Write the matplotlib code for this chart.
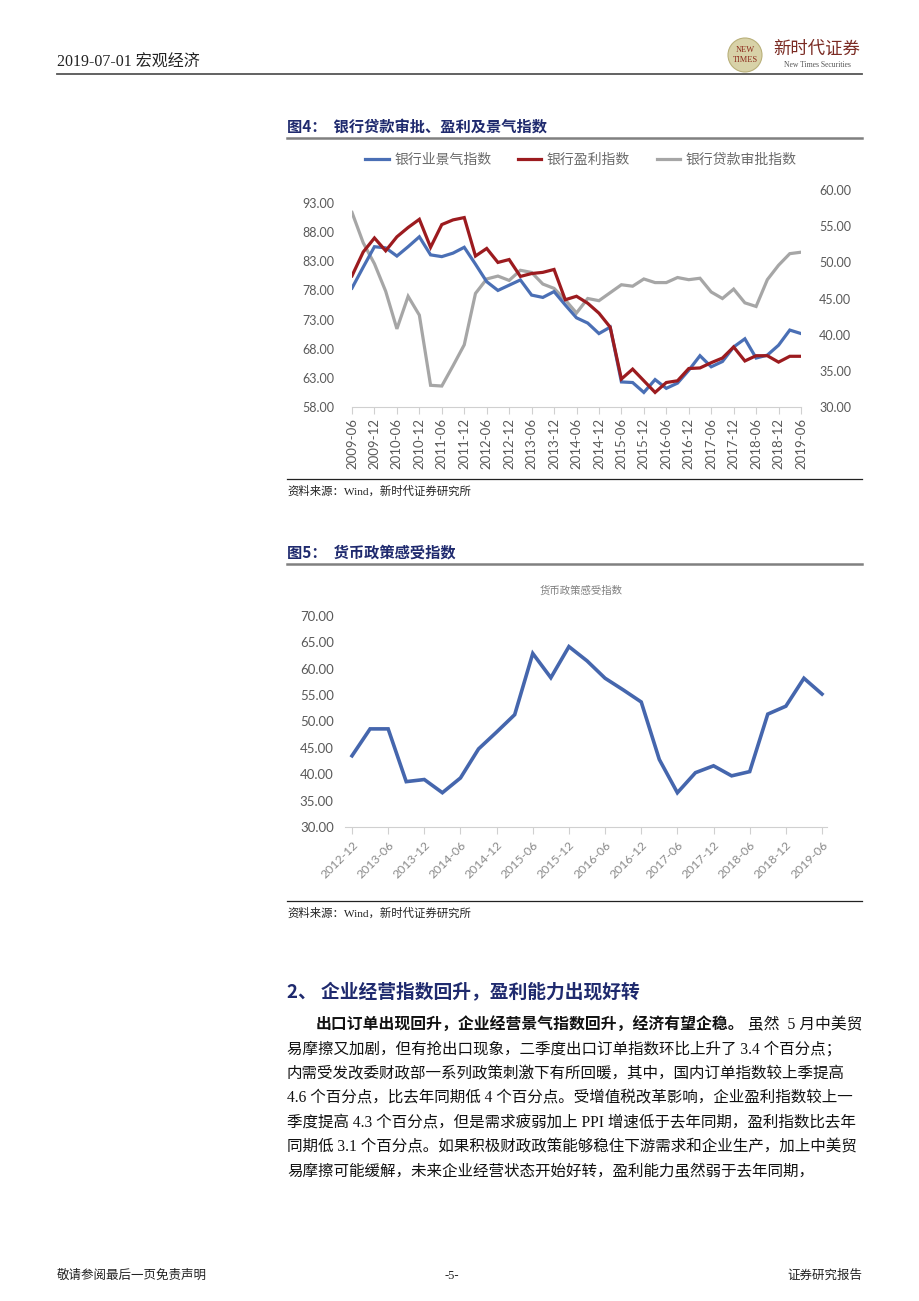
import matplotlib
matplotlib.use("Agg")
import matplotlib.pyplot as plt
from matplotlib.lines import Line2D
from matplotlib.patches import Ellipse
import numpy as np

W, H = 920, 1301

# ---- figure 4 data (quarterly, 2009-06 .. 2019-06) ----
bank_climate = [78.4, 82.0, 85.5, 85.3, 83.9, 85.5, 87.2, 84.1, 83.8, 84.4,
                85.4, 82.5, 79.5, 78.0, 78.9, 79.8, 77.2, 76.8, 77.8, 75.5,
                73.3, 72.4, 70.6, 71.7, 62.3, 62.2, 60.5, 62.7, 61.2, 62.1,
                64.3, 66.8, 64.9, 65.8, 68.3, 69.7, 66.4, 66.9, 68.6, 71.2,
                70.6]
bank_profit = [80.5, 84.6, 87.0, 84.8, 87.2, 88.8, 90.2, 85.4, 89.3, 90.1,
               90.5, 83.9, 85.2, 82.8, 83.3, 80.4, 80.9, 81.1, 81.6, 76.4,
               77.0, 75.8, 74.1, 71.7, 62.8, 64.5, 62.5, 60.5, 62.2, 62.5,
               64.6, 64.7, 65.6, 66.4, 68.3, 65.9, 66.8, 66.8, 65.7, 66.7,
               66.7]
loan_approval = [56.9, 52.7, 49.8, 46.0, 40.8, 45.3, 42.7, 33.0, 32.9, 35.7,
                 38.6, 45.7, 47.7, 48.1, 47.5, 48.9, 48.6, 47.0, 46.4, 44.8,
                 43.0, 45.0, 44.7, 45.8, 46.9, 46.7, 47.7, 47.2, 47.2, 47.9,
                 47.6, 47.8, 45.9, 45.0, 46.3, 44.4, 43.9, 47.6, 49.6, 51.2,
                 51.4]
ticks4 = ["2009-06", "2009-12", "2010-06", "2010-12", "2011-06", "2011-12",
          "2012-06", "2012-12", "2013-06", "2013-12", "2014-06", "2014-12",
          "2015-06", "2015-12", "2016-06", "2016-12", "2017-06", "2017-12",
          "2018-06", "2018-12", "2019-06"]
left4 = [58, 63, 68, 73, 78, 83, 88, 93]
right4 = [30, 35, 40, 45, 50, 55, 60]
names4 = ["银行业景气指数", "银行盈利指数", "银行贷款审批指数"]

# ---- figure 5 data (quarterly, 2012-12 .. 2019-06) ----
policy_feel = [43.5, 48.6, 48.6, 38.6, 39.0, 36.5, 39.3, 44.8, 48.0, 51.3,
               62.9, 58.3, 64.2, 61.5, 58.2, 56.0, 53.7, 42.8, 36.5, 40.3,
               41.6, 39.7, 40.5, 51.4, 52.9, 58.2, 55.2]
ticks5 = ["2012-12", "2013-06", "2013-12", "2014-06", "2014-12", "2015-06",
          "2015-12", "2016-06", "2016-12", "2017-06", "2017-12", "2018-06",
          "2018-12", "2019-06"]
left5 = [30, 35, 40, 45, 50, 55, 60, 65, 70]

CJK = ["Noto Sans CJK SC", "DejaVu Sans"]
SERIF = ["Liberation Serif", "Noto Sans CJK SC"]
NUM = ["Lato", "DejaVu Sans"]
NAVY = "#1f2a6e"
BLUE = "#4a6fb5"
RED = "#9c1b1f"
GRAY = "#a6a6a6"
TICKC = "#595959"


def fx(x):
    return x / W


def fy(y):
    return 1 - y / H


def hline(fig, y, x0, x1, color, lw):
    fig.add_artist(Line2D([fx(x0), fx(x1)], [fy(y), fy(y)], color=color, lw=lw))


fig = plt.figure(figsize=(W / 100, H / 100), dpi=100)
fig.patch.set_facecolor("white")

# ---- page header ----
fig.text(fx(57), fy(63), "2019-07-01 宏观经济", family=SERIF, fontsize=11.5,
         color="#222222", va="center", ha="left")
hline(fig, 74, 57, 862, "#555555", 1.3)
fig.add_artist(Ellipse((fx(745), fy(55)), 34 / W, 34 / H, facecolor="#d8d2a8",
                       edgecolor="#b9b07a", lw=0.8))
fig.text(fx(745), fy(50), "NEW", fontsize=6, color="#8c2a1c", ha="center",
         va="center", family=SERIF)
fig.text(fx(745), fy(60), "TIMES", fontsize=6, color="#8c2a1c", ha="center",
         va="center", family=SERIF)
fig.text(fx(817), fy(49), "新时代证券", family=CJK, fontsize=12.5, color="#7a2a22",
         ha="center", va="center")
fig.text(fx(817), fy(65), "New Times Securities", family=SERIF, fontsize=5.5,
         color="#555555", ha="center", va="center")

# ---- figure 4 ----
fig.text(fx(287), fy(127), "图4：  银行贷款审批、盈利及景气指数", family=CJK,
         fontsize=11, fontweight="bold", color=NAVY, va="center", ha="left")
hline(fig, 138, 287, 862, "#808080", 1.8)

x4 = np.arange(len(bank_climate))
ax = fig.add_axes([fx(352), fy(407), (801 - 352) / W, (407 - 190) / H])
ax2 = ax.twinx()
l1, = ax.plot(x4, bank_climate, color=BLUE, lw=2.3, solid_joinstyle="miter")
l2, = ax.plot(x4, bank_profit, color=RED, lw=2.3, solid_joinstyle="miter")
l3, = ax2.plot(x4, loan_approval, color=GRAY, lw=2.3, solid_joinstyle="miter")
ax.set_zorder(ax2.get_zorder() + 1)
ax.patch.set_visible(False)
ax.set_xlim(0, len(bank_climate) - 1)
ax.set_ylim(58, 95.23)
ax2.set_ylim(30, 60)
ax.set_yticks(left4)
ax.set_yticklabels([f"{v:.2f}" for v in left4])
ax2.set_yticks(right4)
ax2.set_yticklabels([f"{v:.2f}" for v in right4])
ax.set_xticks(np.arange(0, len(bank_climate), 2))
ax.set_xticklabels(ticks4, rotation=90)
for a in (ax, ax2):
    for s in a.spines.values():
        s.set_visible(False)
ax.spines["bottom"].set_visible(True)
ax.spines["bottom"].set_color("#d0d0d0")
ax.tick_params(axis="x", length=5, color="#d0d0d0", labelsize=9.5,
               labelcolor=TICKC, pad=3)
ax.tick_params(axis="y", length=0, labelsize=9, labelcolor=TICKC, pad=13)
ax2.tick_params(axis="y", length=0, labelsize=9, labelcolor=TICKC, pad=13)
for lab in ax.get_xticklabels() + ax.get_yticklabels() + ax2.get_yticklabels():
    lab.set_family(NUM)

fig.legend([l1, l2, l3], names4, loc="center", bbox_to_anchor=(fx(581), fy(160)),
           ncol=3, frameon=False, handlelength=1.7, handletextpad=0.4,
           columnspacing=1.9, prop={"family": CJK, "size": 10},
           labelcolor="#6a6a6a")

hline(fig, 479, 287, 862, "#222222", 0.9)
fig.text(fx(287), fy(491), "资料来源：Wind，新时代证券研究所", family=SERIF,
         fontsize=8.2, color="#222222", va="center", ha="left")

# ---- figure 5 ----
fig.text(fx(287), fy(553), "图5：  货币政策感受指数", family=CJK, fontsize=11,
         fontweight="bold", color=NAVY, va="center", ha="left")
hline(fig, 564, 287, 862, "#808080", 1.8)

x5 = np.arange(len(policy_feel))
step5 = (822 - 352) / (len(policy_feel) - 1)
bx = fig.add_axes([fx(352 - 0.4 * step5), fy(827), (470 + 0.7 * step5) / W,
                   (827 - 616) / H])
bx.plot(x5, policy_feel, color="#4566ad", lw=2.6, solid_joinstyle="miter")
bx.set_xlim(-0.4, len(policy_feel) - 1 + 0.3)
bx.set_ylim(30, 70)
bx.set_yticks(left5)
bx.set_yticklabels([f"{v:.2f}" for v in left5])
bx.set_xticks(np.arange(0, len(policy_feel), 2))
bx.set_xticklabels(ticks5, rotation=45, ha="right", rotation_mode="anchor")
for s in bx.spines.values():
    s.set_visible(False)
bx.spines["bottom"].set_visible(True)
bx.spines["bottom"].set_color("#d0d0d0")
bx.tick_params(axis="x", length=5, color="#d0d0d0", labelsize=8.8,
               labelcolor="#8a8a8a", pad=4)
bx.tick_params(axis="y", length=0, labelsize=9.5, labelcolor=TICKC, pad=8)
for lab in bx.get_xticklabels() + bx.get_yticklabels():
    lab.set_family(NUM)
fig.text(fx(581), fy(591), "货币政策感受指数", family=CJK, fontsize=7.5,
         color="#7f7f7f", ha="center", va="center")

hline(fig, 901, 287, 862, "#222222", 0.9)
fig.text(fx(287), fy(913), "资料来源：Wind，新时代证券研究所", family=SERIF,
         fontsize=8.2, color="#222222", va="center", ha="left")

# ---- section text ----
fig.text(fx(287), fy(993), "2、 企业经营指数回升，盈利能力出现好转", family=CJK,
         fontsize=13.5, fontweight="bold", color=NAVY, va="center", ha="left")

bold_lead = "出口订单出现回升，企业经营景气指数回升，经济有望企稳。"
lines = [
    "虽然  5 月中美贸",
    "易摩擦又加剧，但有抢出口现象，二季度出口订单指数环比上升了 3.4 个百分点；",
    "内需受发改委财政部一系列政策刺激下有所回暖，其中，国内订单指数较上季提高",
    "4.6 个百分点，比去年同期低 4 个百分点。受增值税改革影响，企业盈利指数较上一",
    "季度提高 4.3 个百分点，但是需求疲弱加上 PPI 增速低于去年同期，盈利指数比去年",
    "同期低 3.1 个百分点。如果积极财政政策能够稳住下游需求和企业生产，加上中美贸",
    "易摩擦可能缓解，未来企业经营状态开始好转，盈利能力虽然弱于去年同期，",
]
line_y = [1025, 1050, 1074, 1098, 1123, 1147, 1172]
fig.text(fx(316), fy(line_y[0]), bold_lead, family=CJK, fontsize=11.4,
         fontweight="bold", color="#111111", va="center", ha="left")
fig.text(fx(862), fy(line_y[0]), lines[0], family=SERIF, fontsize=11.3,
         color="#111111", va="center", ha="right")
for txt, yy in zip(lines[1:], line_y[1:]):
    fig.text(fx(287), fy(yy), txt, family=SERIF, fontsize=11.2,
             color="#111111", va="center", ha="left")

# ---- footer ----
fig.text(fx(57), fy(1276), "敬请参阅最后一页免责声明", family=SERIF, fontsize=9,
         color="#222222", va="center", ha="left")
fig.text(fx(452), fy(1276), "-5-", family=SERIF, fontsize=9, color="#222222",
         va="center", ha="center")
fig.text(fx(862), fy(1276), "证券研究报告", family=SERIF, fontsize=9,
         color="#222222", va="center", ha="right")

fig.savefig("out.png", dpi=100, facecolor="white")
